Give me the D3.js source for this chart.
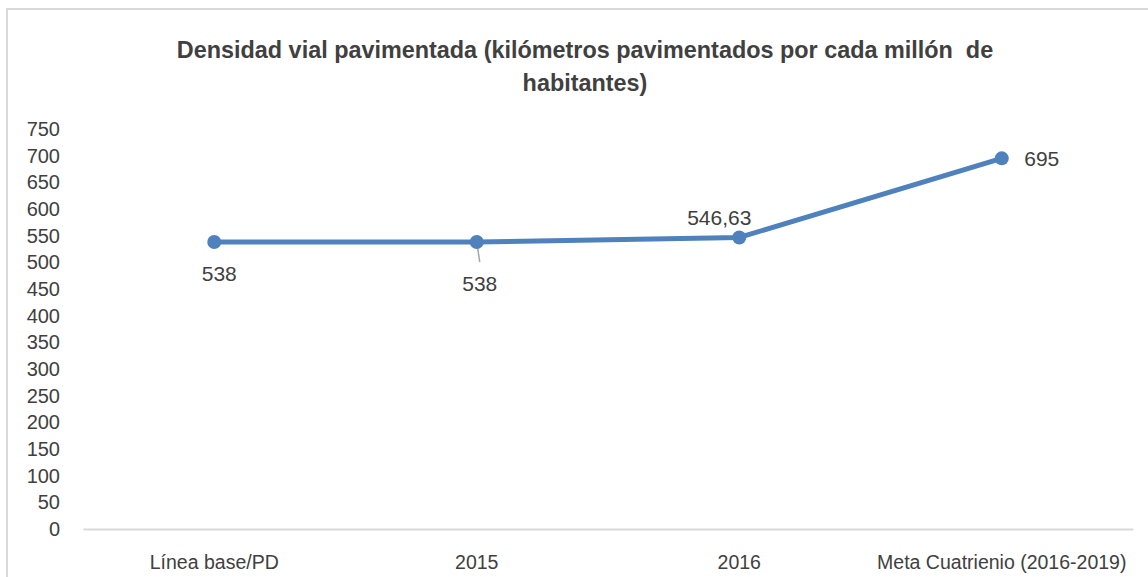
<!DOCTYPE html>
<html>
<head>
<meta charset="utf-8">
<script src="https://cdn.jsdelivr.net/npm/d3@7"></script>
<style>
  body { margin: 0; background: #fff; }
  text { font-family: "Liberation Sans Narrow", "Liberation Sans", Arial, sans-serif; fill: #404040; }
</style>
</head>
<body>
<div id="chart"></div>
<script>
var width = 1148;
var height = 577;

var categories = ["Línea base/PD", "2015", "2016", "Meta Cuatrienio (2016-2019)"];
var values = [538, 538, 546.63, 695];
var valueLabels = ["538", "538", "546,63", "695"];
var yTicks = [0, 50, 100, 150, 200, 250, 300, 350, 400, 450, 500, 550, 600, 650, 700, 750];
var titleLines = ["Densidad vial pavimentada (kilómetros pavimentados por cada millón  de", "habitantes)"];

var svg = d3.select("#chart")
            .append("svg")
            .attr("width", width)
            .attr("height", height);

// chart frame
svg.append("rect")
    .attr("x", 7).attr("y", 9)
    .attr("width", width + 10).attr("height", height + 10)
    .attr("fill", "none")
    .attr("stroke", "#d9d9d9")
    .attr("stroke-width", 2);

var x = d3.scaleBand()
    .domain(categories)
    .range([83, 1133]);

var y = d3.scaleLinear()
    .domain([0, 750])
    .range([529, 129]);

// title
svg.selectAll(".title")
    .data(titleLines)
    .enter()
    .append("text")
    .attr("class", "title")
    .attr("x", 585)
    .attr("y", function(d, i) { return 58 + i * 33; })
    .attr("text-anchor", "middle")
    .style("font-size", "23.4px")
    .style("font-weight", "bold")
    .style("white-space", "pre")
    .text(function(d) { return d; });

// y axis labels (no line, no ticks)
var yAxis = svg.append("g")
    .attr("transform", "translate(60,0)")
    .call(d3.axisLeft(y).tickValues(yTicks).tickSize(0).tickPadding(0));
yAxis.select(".domain").remove();
yAxis.selectAll("text")
    .style("font-size", "20px")
    .style("font-family", "'Liberation Sans', Arial, sans-serif")
    .attr("fill", "#595959");

// x axis
var xAxis = svg.append("g")
    .attr("transform", "translate(0,529)")
    .call(d3.axisBottom(x).tickSize(0).tickPadding(26));
xAxis.select(".domain")
    .attr("stroke", "#d9d9d9")
    .attr("stroke-width", 2);
xAxis.selectAll("text")
    .style("font-size", "19.5px")
    .attr("fill", "#595959");

var cx = function(d, i) { return x(categories[i]) + x.bandwidth() / 2; };

// line
var line = d3.line()
    .x(function(d, i) { return cx(d, i); })
    .y(function(d) { return y(d); });

svg.append("path")
    .datum(values)
    .attr("d", line)
    .attr("fill", "none")
    .attr("stroke", "#4f81bd")
    .attr("stroke-width", 5)
    .attr("stroke-linejoin", "round");

// leader line for the 2015 label
svg.append("line")
    .attr("x1", cx(values[1], 1)).attr("y1", y(values[1]))
    .attr("x2", cx(values[1], 1) + 3).attr("y2", y(values[1]) + 20)
    .attr("stroke", "#a6a6a6")
    .attr("stroke-width", 1.5);

svg.selectAll(".dot")
    .data(values)
    .enter()
    .append("circle")
    .attr("class", "dot")
    .attr("cx", cx)
    .attr("cy", function(d) { return y(d); })
    .attr("r", 7)
    .attr("fill", "#4f81bd");

// data labels
var labelOffsets = [[5, 39], [3, 49], [-20, -12], [40, 8]];
svg.selectAll(".lbl")
    .data(values)
    .enter()
    .append("text")
    .attr("class", "lbl")
    .attr("x", function(d, i) { return cx(d, i) + labelOffsets[i][0]; })
    .attr("y", function(d, i) { return y(d) + labelOffsets[i][1]; })
    .attr("text-anchor", "middle")
    .style("font-size", "21px")
    .style("font-family", "'Liberation Sans', Arial, sans-serif")
    .text(function(d, i) { return valueLabels[i]; });
</script>
</body>
</html>
